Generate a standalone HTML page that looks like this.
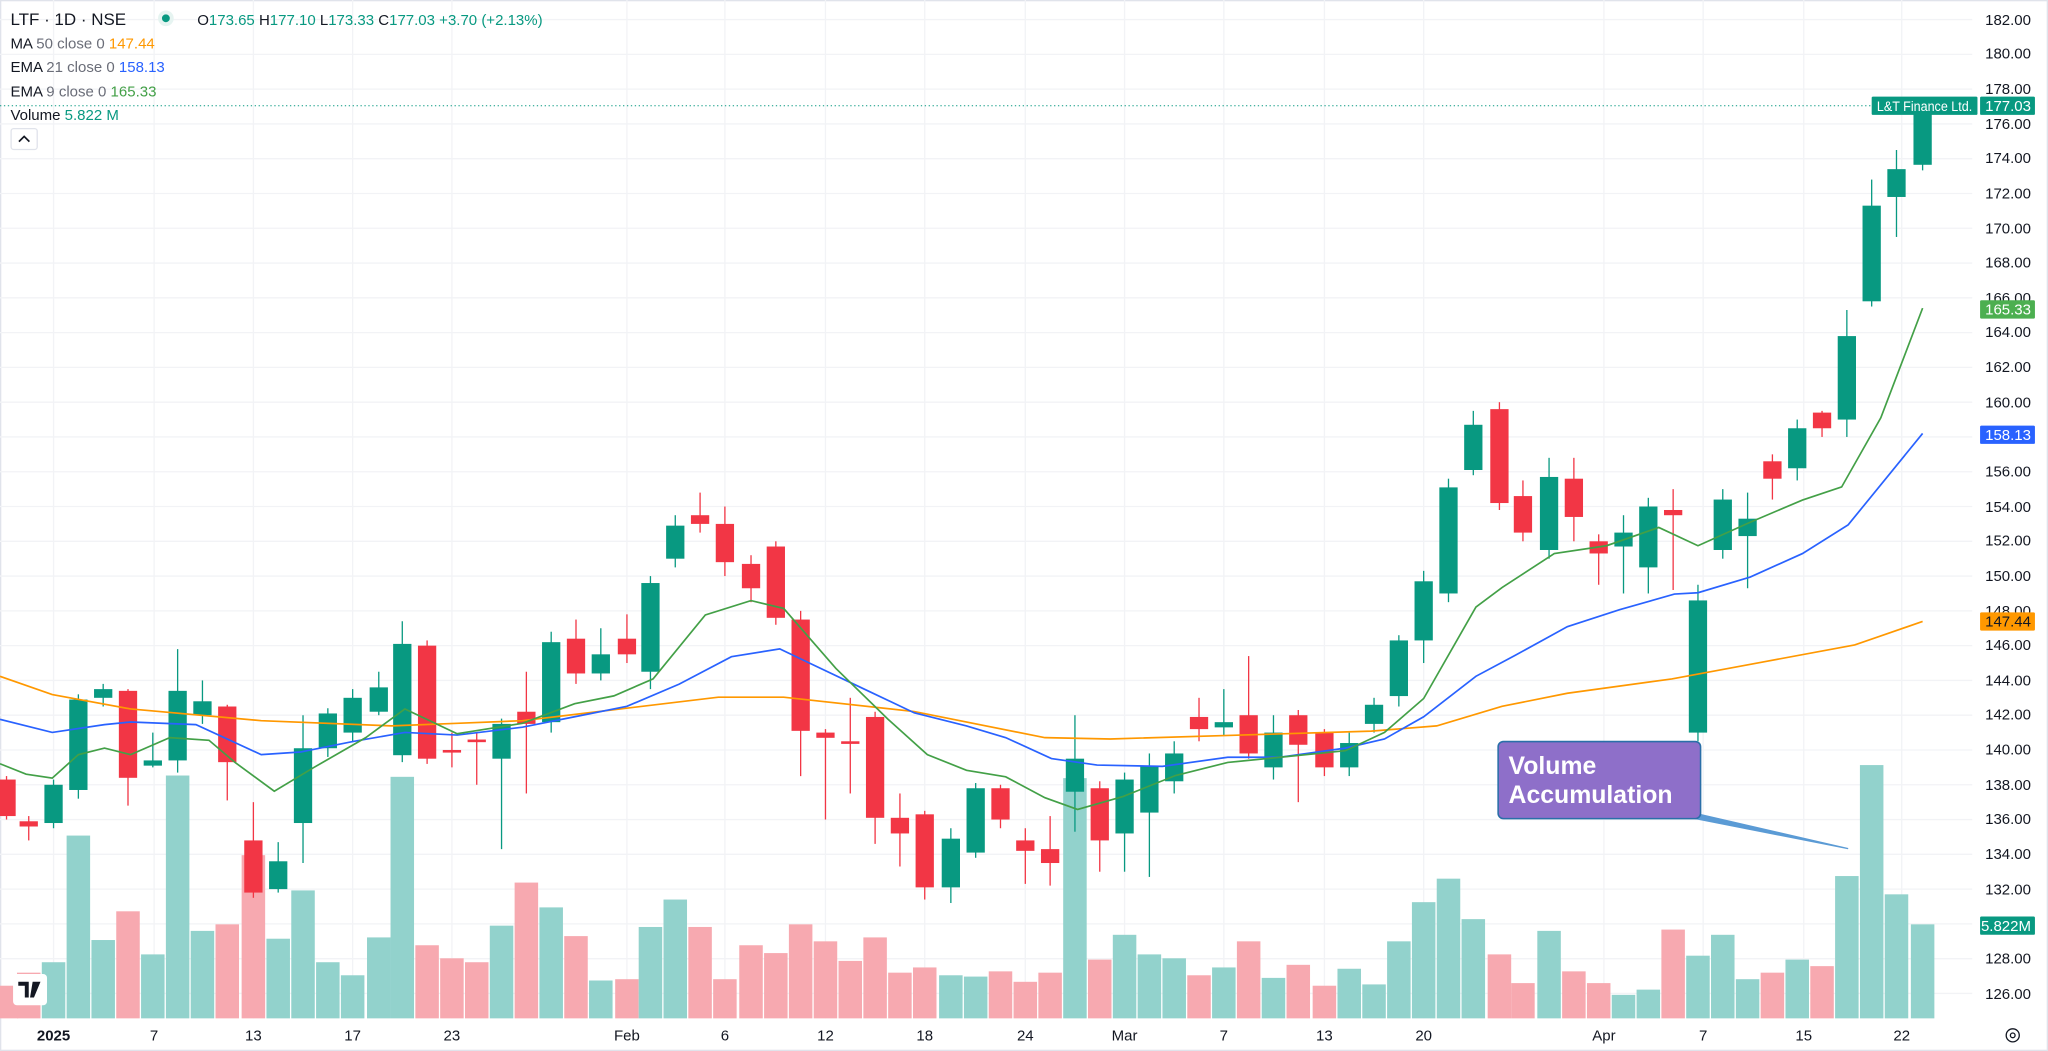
<!DOCTYPE html>
<html><head><meta charset="utf-8">
<style>
html,body{margin:0;padding:0;background:#fff;}
svg{display:block;font-family:"Liberation Sans",sans-serif;}
</style></head>
<body>
<svg id="c" width="2048" height="1051" viewBox="0 0 1568 805" preserveAspectRatio="none" xmlns="http://www.w3.org/2000/svg">
<rect x="0" y="0" width="1568" height="805" fill="#fff"/>
<rect x="0.5" y="0.5" width="1567" height="804" fill="none" stroke="#e0e3eb"/>
<g id="grid"></g>
<g id="vol"></g>
<g id="candles"></g>
<line x1="0" y1="81" x2="1510" y2="81" stroke="#089981" stroke-width="0.8" stroke-dasharray="1,2"/>
<polyline fill="none" stroke="#ff9800" stroke-width="1.3" points="0,518 40,532 100,543 200,552 300,556 350,554 400,552 450,546 550,534 600,534 700,545 800,565 850,566 950,563 1050,560 1100,556 1150,541 1200,531 1280,520 1350,507 1420,494 1472,476"/>
<polyline fill="none" stroke="#2962ff" stroke-width="1.3" points="0,551 40,561 80,555 100,553 150,555 200,578 230,576 270,568 310,561 350,563 400,557 440,549 480,541 520,524 560,503 597,497 620,508 660,527 700,546 740,556 770,565 805,581 840,586 890,587 940,580 980,580 1030,573 1060,566 1090,549 1130,518 1160,502 1200,480 1240,467 1282,455 1300,454 1340,442 1380,424 1415,402 1472,332"/>
<polyline fill="none" stroke="#43a047" stroke-width="1.3" points="0,585 20,593 40,596 60,578 80,573 100,578 130,565 160,567 180,584 210,606 240,588 280,565 310,543 350,562 400,554 440,539 470,533 500,520 540,471 575,460 600,466 640,512 680,551 710,578 740,590 770,595 800,611 825,620 860,610 900,594 940,584 980,580 1030,575 1060,561 1090,535 1130,465 1150,450 1190,424 1230,418 1270,404 1300,418 1340,400 1380,383 1410,373 1440,320 1472,236"/>
<polygon points="1298,623 1415,650 1298,627" fill="#5b9bd5" stroke="#5b9bd5" stroke-width="1"/>
<rect x="1147" y="568" width="155" height="59" rx="4" fill="#8e6fc9" stroke="#2a6fa8" stroke-width="1.2"/>
<text x="1155" y="593" fill="#fff" font-size="19" font-weight="bold">Volume</text>
<text x="1155" y="615" fill="#fff" font-size="19" font-weight="bold">Accumulation</text>
<text x="8" y="19" font-size="13" fill="#131722">LTF · 1D · NSE</text>
<circle cx="127" cy="14" r="6" fill="#e6f4f1"/><circle cx="127" cy="14" r="3" fill="#089981"/>
<text x="151" y="19" font-size="11.5" fill="#131722">O<tspan fill="#089981">173.65</tspan> H<tspan fill="#089981">177.10</tspan> L<tspan fill="#089981">173.33</tspan> C<tspan fill="#089981">177.03</tspan> <tspan fill="#089981">+3.70 (+2.13%)</tspan></text>
<text x="8" y="37" font-size="11.5" fill="#131722">MA <tspan fill="#6a6d78">50 close 0</tspan> <tspan fill="#ff9800">147.44</tspan></text>
<text x="8" y="55" font-size="11.5" fill="#131722">EMA <tspan fill="#6a6d78">21 close 0</tspan> <tspan fill="#2962ff">158.13</tspan></text>
<text x="8" y="74" font-size="11.5" fill="#131722">EMA <tspan fill="#6a6d78">9 close 0</tspan> <tspan fill="#43a047">165.33</tspan></text>
<text x="8" y="92" font-size="11.5" fill="#131722">Volume <tspan fill="#089981">5.822 M</tspan></text>
<rect x="8.5" y="98.5" width="20" height="16" rx="2" fill="#fff" stroke="#e0e3eb"/>
<path d="M14.5,108.5 L18.5,104.5 L22.5,108.5" fill="none" stroke="#131722" stroke-width="1.3"/>
<g font-size="11.5" fill="#131722" text-anchor="end">
<text x="1555" y="19">182.00</text><text x="1555" y="45">180.00</text><text x="1555" y="72">178.00</text>
<text x="1555" y="99">176.00</text><text x="1555" y="125">174.00</text><text x="1555" y="152">172.00</text>
<text x="1555" y="179">170.00</text><text x="1555" y="205">168.00</text><text x="1555" y="232">166.00</text>
<text x="1555" y="258">164.00</text><text x="1555" y="285">162.00</text><text x="1555" y="312">160.00</text>
<text x="1555" y="365">156.00</text><text x="1555" y="392">154.00</text>
<text x="1555" y="418">152.00</text><text x="1555" y="445">150.00</text><text x="1555" y="472">148.00</text>
<text x="1555" y="498">146.00</text><text x="1555" y="525">144.00</text><text x="1555" y="551">142.00</text>
<text x="1555" y="578">140.00</text><text x="1555" y="605">138.00</text><text x="1555" y="631">136.00</text>
<text x="1555" y="658">134.00</text><text x="1555" y="685">132.00</text><text x="1555" y="738">128.00</text>
<text x="1555" y="765">126.00</text>
</g>
<rect x="1433" y="74" width="81" height="14" rx="1" fill="#089981"/>
<text x="1437" y="85" font-size="10.5" fill="#fff" textLength="73" lengthAdjust="spacingAndGlyphs">L&amp;T Finance Ltd.</text>
<rect x="1516" y="74" width="42" height="14" rx="1" fill="#089981"/>
<text x="1555" y="85" font-size="11.5" fill="#fff" text-anchor="end">177.03</text>
<rect x="1516" y="230" width="42" height="14" rx="1" fill="#4caf50"/>
<text x="1555" y="241" font-size="11.5" fill="#fff" text-anchor="end">165.33</text>
<rect x="1516" y="326" width="42" height="14" rx="1" fill="#2962ff"/>
<text x="1555" y="337" font-size="11.5" fill="#fff" text-anchor="end">158.13</text>
<rect x="1516" y="469" width="42" height="14" rx="1" fill="#ff9800"/>
<text x="1555" y="480" font-size="11.5" fill="#131722" text-anchor="end">147.44</text>
<rect x="1516" y="702" width="42" height="14" rx="1" fill="#089981"/>
<text x="1555" y="713" font-size="11.5" fill="#fff" text-anchor="end">5.822M</text>
<g font-size="11.5" fill="#131722" text-anchor="middle">
<text x="41" y="797" font-weight="bold">2025</text><text x="118" y="797">7</text><text x="194" y="797">13</text>
<text x="270" y="797">17</text><text x="346" y="797">23</text><text x="480" y="797">Feb</text>
<text x="555" y="797">6</text><text x="632" y="797">12</text><text x="708" y="797">18</text>
<text x="785" y="797">24</text><text x="861" y="797">Mar</text><text x="937" y="797">7</text>
<text x="1014" y="797">13</text><text x="1090" y="797">20</text><text x="1228" y="797">Apr</text>
<text x="1304" y="797">7</text><text x="1381" y="797">15</text><text x="1456" y="797">22</text>
</g>
<circle cx="1541" cy="793" r="5" fill="none" stroke="#131722" stroke-width="1"/>
<circle cx="1541" cy="793" r="1.8" fill="none" stroke="#131722" stroke-width="1"/>
<rect x="10" y="746" width="26" height="24" rx="3" fill="#fff"/>
<path d="M14,752 h8 v12 h-3 v-9 h-5z M25,752 h6 l-5,12 h-3z" fill="#131722"/>
</svg>
<script>
var ns="http://www.w3.org/2000/svg";
function el(g,t,a){var e=document.createElementNS(ns,t);for(var k in a)e.setAttribute(k,a[k]);document.getElementById(g).appendChild(e);}
function Y(p){return 15+(182-p)*13.32;}
var hs=[];for(var p=126;p<=182;p+=2)hs.push(p);
hs.forEach(function(p){el("grid","line",{x1:0,x2:1510,y1:Y(p),y2:Y(p),stroke:"#f2f3f6","stroke-width":1});});
[41,118,194,270,346,480,555,632,708,785,861,937,1014,1090,1228,1304,1381,1456].forEach(function(x){el("grid","line",{x1:x,x2:x,y1:0,y2:780,stroke:"#f2f3f6","stroke-width":1});});
var d=[
[5,138.3,136.2,138.5,136,755],[22,135.9,135.6,136.2,134.8,745],[41,135.8,138.0,138.3,135.5,737],[60,137.7,142.9,143.2,137.2,640],
[79,143,143.5,143.8,142.5,720],[98,143.4,138.4,143.5,136.8,698],[117,139.1,139.4,141,139,731],[136,139.4,143.4,145.8,138.7,594],
[155,142,142.8,144,141.5,713],[174,142.5,139.3,142.6,137.1,708],[194,134.8,131.8,137,131.5,655],[213,132,133.6,134.7,131.8,719],
[232,135.8,140.1,142,133.5,682],[251,140.1,142.1,142.4,139.6,737],[270,141,143,143.5,140.5,747],[290,142.2,143.6,144.5,142,718],
[308,139.7,146.1,147.4,139.3,595],[327,146,139.5,146.3,139.2,724],[346,140,139.85,141,139,734],[365,140.6,140.45,141,138,737],
[384,139.5,141.5,141.8,134.3,709],[403,142.2,141.5,144.5,137.5,676],[422,141.6,146.2,146.8,141,695],[441,146.4,144.4,147.5,143.8,717],
[460,144.4,145.5,147,144,751],[480,146.4,145.5,147.8,145,750],[498,144.5,149.6,150,143.5,710],[517,151,152.9,153.5,150.5,689],
[536,153.5,153,154.8,152.5,710],[555,153,150.8,154,150,750],[575,150.7,149.3,151.2,148.5,724],[594,151.7,147.6,152,147.2,730],
[613,147.5,141.1,148,138.5,708],[632,141,140.7,141.2,136,721],[651,140.5,140.35,143,137.5,736],[670,141.9,136.1,142.2,134.6,718],
[689,136.1,135.2,137.5,133.3,745],[708,136.3,132.1,136.5,131.4,741],[728,132.1,134.9,135.5,131.2,747],[747,134.1,137.8,138.1,133.8,748],
[766,137.8,136,138,135.5,744],[785,134.8,134.2,135.5,132.3,752],[804,134.3,133.5,136.2,132.2,745],[823,137.6,139.5,142,135.3,596],
[842,137.8,134.8,138.2,133,735],[861,135.2,138.3,138.7,133,716],[880,136.4,139.1,139.8,132.7,731],[899,138.2,139.8,140.5,137.5,734],
[918,141.9,141.2,143,140.5,747],[937,141.3,141.6,143.5,140.8,741],[956,142,139.8,145.4,139.5,721],[975,139,141,142,138.3,749],
[994,142,140.3,142.3,137,739],[1014,141,139,141.2,138.5,755],[1033,139,140.4,141,138.5,742],[1052,141.5,142.6,143,141,754],
[1071,143.1,146.3,146.6,142.5,721],[1090,146.3,149.7,150.3,145,691],[1109,149,155.1,155.6,148.5,673],[1128,156.1,158.7,159.5,155.8,704],
[1148,159.6,154.2,160,153.8,731],[1166,154.6,152.5,155.5,152,753],[1186,151.5,155.7,156.8,151,713],[1205,155.6,153.4,156.8,152,744],
[1224,152,151.3,152.4,149.5,753],[1243,151.7,152.5,153.5,149,762],[1262,150.5,154,154.5,149,758],[1281,153.8,153.5,155,149.2,712],
[1300,141,148.6,149.5,140.5,732],[1319,151.5,154.4,155,151,716],[1338,152.3,153.3,154.8,149.3,750],[1357,156.6,155.6,157,154.4,745],
[1376,156.2,158.5,159,155.5,735],[1395,159.4,158.5,159.5,158,740],[1414,159,163.8,165.3,158,671],[1433,165.8,171.3,172.8,165.5,586],
[1452,171.8,173.4,174.5,169.5,685],[1472,173.65,177.03,177.1,173.33,708]];
d.forEach(function(c){
 var x=c[0],o=c[1],cl=c[2],h=c[3],l=c[4],v=c[5],up=cl>=o;
 var col=up?"#089981":"#f23645";
 el("vol","rect",{x:x-9,y:v,width:18,height:780-v,fill:up?"#92d2cc":"#f7a9b0"});
 el("candles","line",{x1:x,x2:x,y1:Y(h),y2:Y(l),stroke:col,"stroke-width":1});
 var t=Y(Math.max(o,cl)),b=Y(Math.min(o,cl));
 el("candles","rect",{x:x-7,y:t,width:14,height:Math.max(b-t,1.5),fill:col});
});
</script>
</body></html>
